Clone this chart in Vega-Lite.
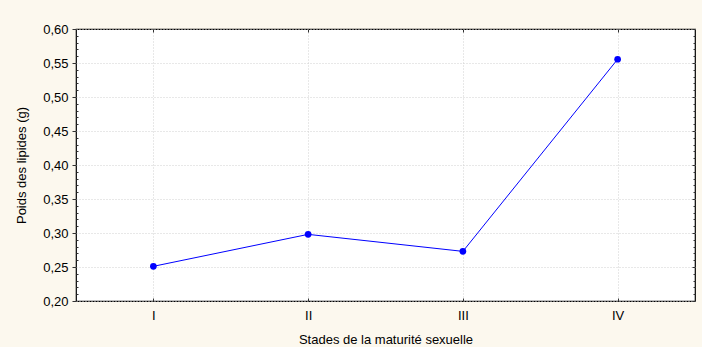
{
  "$schema": "https://vega.github.io/schema/vega-lite/v6.json",
  "width": 619,
  "height": 272,
  "autosize": {"type": "none"},
  "padding": {"left": 76, "top": 29, "right": 7, "bottom": 46},
  "background": "#FCF8EE",
  "config": {
    "view": {"stroke": "#000000", "strokeWidth": 1.2, "fill": "#FFFFFF"},
    "font": "Liberation Sans",
    "axis": {"labelFont": "Liberation Sans", "titleFont": "Liberation Sans", "labelFontSize": 13, "titleFontSize": 13, "labelColor": "#000000", "titleColor": "#000000", "titleFontWeight": "normal", "domain": false, "tickColor": "#333333"}
  },
  "data": {"values": [
    {"stade": "I", "poids": 0.251},
    {"stade": "II", "poids": 0.298},
    {"stade": "III", "poids": 0.273},
    {"stade": "IV", "poids": 0.5555}
  ]},
  "encoding": {
    "x": {"field": "stade", "type": "ordinal", "sort": ["I", "II", "III", "IV"], "scale": {"type": "point", "padding": 0.5}},
    "y": {"field": "poids", "type": "quantitative", "scale": {"domain": [0.2, 0.6], "nice": false, "zero": false}}
  },
  "layer": [
    {
      "mark": {"type": "line", "color": "#0000FF", "strokeWidth": 1},
      "encoding": {
        "x": {"field": "stade", "type": "ordinal", "sort": ["I", "II", "III", "IV"], "scale": {"type": "point", "padding": 0.5},
          "axis": {"orient": "bottom", "title": "Stades de la maturité sexuelle", "labelAngle": 0, "tickSize": -3, "labelPadding": 11, "titlePadding": 11, "grid": true, "gridColor": "#D0D0D0", "gridDash": [1, 2], "gridWidth": 1}},
        "y": {"field": "poids", "type": "quantitative", "scale": {"domain": [0.2, 0.6], "nice": false, "zero": false},
          "axis": {"orient": "left", "title": "Poids des lipides (g)",
            "values": [0.2,0.21,0.22,0.23,0.24,0.25,0.26,0.27,0.28,0.29,0.3,0.31,0.32,0.33,0.34,0.35,0.36,0.37,0.38,0.39,0.4,0.41,0.42,0.43,0.44,0.45,0.46,0.47,0.48,0.49,0.5,0.51,0.52,0.53,0.54,0.55,0.56,0.57,0.58,0.59,0.6],
            "labelExpr": "abs(datum.value*100 - round(datum.value*20)*5) < 0.01 ? replace(format(datum.value, '.2f'), '.', ',') : ''",
            "tickSize": {"condition": {"test": "abs(datum.value*100 - round(datum.value*20)*5) < 0.01", "value": 4}, "value": -2},
            "labelPadding": 4,
            "labelFlush": false,
            "labelOverlap": false,
            "titlePadding": 14,
            "grid": true,
            "gridColor": "#D0D0D0",
            "gridDash": [1, 2],
            "gridWidth": 1,
            "gridOpacity": {"condition": {"test": "abs(datum.value*100 - round(datum.value*20)*5) < 0.01", "value": 1}, "value": 0}}}
      }
    },
    {
      "mark": {"type": "point", "filled": true, "color": "#0000FF", "opacity": 1, "size": 45},
      "encoding": {
        "x": {"field": "stade", "type": "ordinal", "sort": ["I", "II", "III", "IV"], "scale": {"type": "point", "padding": 0.5},
          "axis": {"orient": "top", "title": null, "labels": false, "tickSize": -3, "grid": false}},
        "y": {"field": "poids", "type": "quantitative", "scale": {"domain": [0.2, 0.6], "nice": false, "zero": false},
          "axis": {"orient": "right", "title": null, "labels": false, "grid": false,
            "values": [0.2,0.21,0.22,0.23,0.24,0.25,0.26,0.27,0.28,0.29,0.3,0.31,0.32,0.33,0.34,0.35,0.36,0.37,0.38,0.39,0.4,0.41,0.42,0.43,0.44,0.45,0.46,0.47,0.48,0.49,0.5,0.51,0.52,0.53,0.54,0.55,0.56,0.57,0.58,0.59,0.6],
            "tickSize": {"condition": {"test": "abs(datum.value*100 - round(datum.value*20)*5) < 0.01", "value": -3}, "value": -2}}}
      }
    }
  ],
  "resolve": {"axis": {"x": "independent", "y": "independent"}}
}
